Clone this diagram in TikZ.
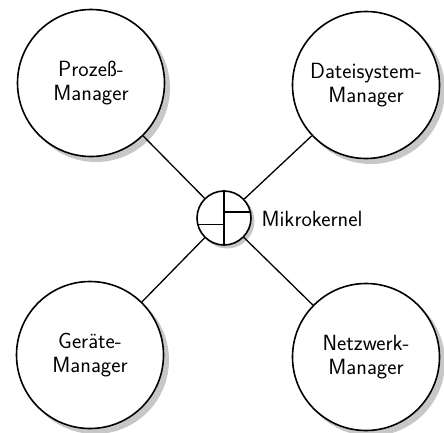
\documentclass[tikz,border=0pt]{standalone}
\tikzset{
    manager/.style={circle,draw=black,line width=1.6pt,fill=white,minimum size=147pt,inner sep=0pt,align=center,font=\sffamily\fontsize{22}{24.5}\selectfont},
    kernel/.style={circle,draw=black,line width=1.6pt,fill=white,minimum size=54pt,inner sep=0pt},
    shadowdisc/.style={fill=black!22,draw=none},
    link/.style={draw=black,line width=1.3pt}
}
\begin{document}
\begin{tikzpicture}[x=1pt,y=-1pt]
\useasboundingbox (0,0) rectangle (444,432);
% Schatten
\fill[shadowdisc] (96,88) circle (74);
\fill[shadowdisc] (371,90) circle (74);
\fill[shadowdisc] (95,360) circle (74);
\fill[shadowdisc] (371,362) circle (74);
\fill[shadowdisc] (227,221) circle (27.5);
% Kern in der Mitte
\node[kernel] (mk) at (224,218) {};
\node[anchor=west,font=\sffamily\fontsize{22}{24.5}\selectfont] (mklabel) at (258,219) {Mikrokernel};
\draw[line width=1.5pt] (mk.north) -- (mk.south);
\draw[line width=1.5pt] (mk.13) -- (mk.13 -| mk.north);
\draw[line width=1.5pt] (mk.193) -- (mk.193 -| mk.north);
% Server
\node[manager] (pm) at (91,83) {Prozeß-\\Manager};
\node[manager] (dm) at (366,85) {Dateisystem-\\Manager};
\node[manager] (gm) at (90,355) {Geräte-\\Manager};
\node[manager] (nm) at (366,357) {Netzwerk-\\Manager};
% Verbindungen
\draw[link] (pm) -- (mk);
\draw[link] (dm) -- (mk);
\draw[link] (gm) -- (mk);
\draw[link] (nm) -- (mk);
\end{tikzpicture}
\end{document}
